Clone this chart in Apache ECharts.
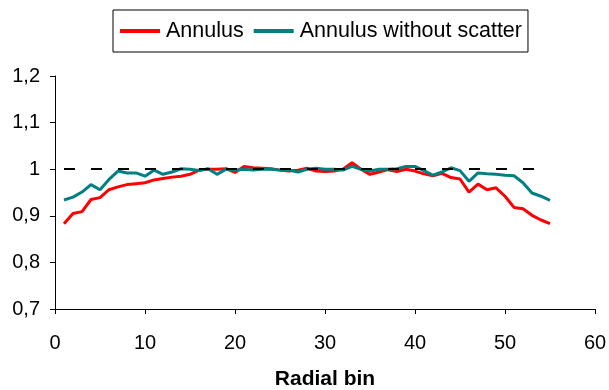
<!DOCTYPE html>
<html>
<head>
<meta charset="utf-8">
<script src="https://cdn.jsdelivr.net/npm/echarts@6/dist/echarts.min.js"></script>
<style>html,body{margin:0;padding:0;background:#fff}#c{width:609px;height:390px}</style>
</head>
<body>
<div id="c"></div>
<script>
var bins = [1,2,3,4,5,6,7,8,9,10,11,12,13,14,15,16,17,18,19,20,21,22,23,24,25,26,27,28,29,30,31,32,33,34,35,36,37,38,39,40,41,42,43,44,45,46,47,48,49,50,51,52,53,54,55];
var annulus = [0.883,0.905,0.909,0.935,0.939,0.956,0.962,0.967,0.969,0.971,0.977,0.980,0.983,0.985,0.989,0.998,1.000,1.000,1.001,0.993,1.006,1.003,1.002,1.001,0.998,0.996,0.998,1.002,0.996,0.995,0.996,1.000,1.014,1.000,0.989,0.994,0.999,0.995,1.000,0.996,0.990,0.986,0.991,0.982,0.979,0.951,0.968,0.956,0.960,0.942,0.918,0.915,0.901,0.891,0.883];
var annulusNoScatter = [0.934,0.940,0.951,0.967,0.956,0.978,0.996,0.992,0.992,0.985,0.998,0.989,0.994,1.001,1.000,0.997,1.001,0.989,1.000,0.998,1.000,0.998,1.000,1.000,0.998,0.998,0.994,1.000,1.002,1.000,1.000,0.998,1.006,1.000,0.996,1.000,1.000,1.001,1.006,1.006,0.997,0.987,0.994,1.003,0.997,0.974,0.992,0.990,0.989,0.987,0.986,0.971,0.949,0.942,0.933];
var refLine = [[1,1],[55,1]];
var seriesNames = ['Annulus','Annulus without scatter'];
var xTicks = {min:0,max:60,interval:10};
var yTicks = {min:0.7,max:1.2,interval:0.1};

function pairs(xs, ys){ return xs.map(function(x,i){ return [x, ys[i]]; }); }
var FONT = '"Liberation Sans", Arial, sans-serif';
var chart = echarts.init(document.getElementById('c'), null, {renderer:'canvas'});
chart.setOption({
  animation:false,
  backgroundColor:'#fff',
  legend:{
    data:seriesNames,
    left:113, top:10,
    padding:[10,6,10,7],
    borderColor:'#000', borderWidth:1,
    itemWidth:40, itemHeight:4, itemGap:10,
    icon:'rect',
    textStyle:{fontFamily:FONT,fontSize:21.5,color:'#000',padding:[0,0,0,1]}
  },
  grid:{left:55,right:14,top:76,bottom:81,containLabel:false,outerBoundsMode:'none'},
  xAxis:{
    type:'value', min:xTicks.min, max:xTicks.max, interval:xTicks.interval,
    name:'Radial bin', nameLocation:'middle', nameGap:60,
    nameTextStyle:{fontFamily:FONT,fontSize:21,fontWeight:'bold',color:'#000'},
    axisLine:{lineStyle:{color:'#000',width:1}},
    axisTick:{show:true,inside:false,length:5,lineStyle:{color:'#000'}},
    axisLabel:{fontFamily:FONT,fontSize:20,color:'#000',margin:24},
    splitLine:{show:false}
  },
  yAxis:{
    type:'value', min:yTicks.min, max:yTicks.max, interval:yTicks.interval,
    axisLine:{show:true,lineStyle:{color:'#000',width:1}},
    axisTick:{show:true,inside:false,length:5,lineStyle:{color:'#000'}},
    axisLabel:{fontFamily:FONT,fontSize:20,color:'#000',margin:15,
      formatter:function(v){ return (Math.round(v*10)/10).toString().replace('.',','); }},
    splitLine:{show:false}
  },
  series:[
    {name:seriesNames[0], type:'line', data:pairs(bins, annulus), showSymbol:false, symbol:'none',
     itemStyle:{color:'#FF0000'}, lineStyle:{color:'#FF0000',width:3}, z:2,
     markLine:{silent:true, symbol:'none', label:{show:false},
       lineStyle:{color:'#000',width:2,type:[11,16]},
       data:[[{coord:refLine[0]},{coord:refLine[1]}]]}},
    {name:seriesNames[1], type:'line', data:pairs(bins, annulusNoScatter), showSymbol:false, symbol:'none',
     itemStyle:{color:'#008080'}, lineStyle:{color:'#008080',width:3}, z:3}
  ]
});
</script>
</body>
</html>
